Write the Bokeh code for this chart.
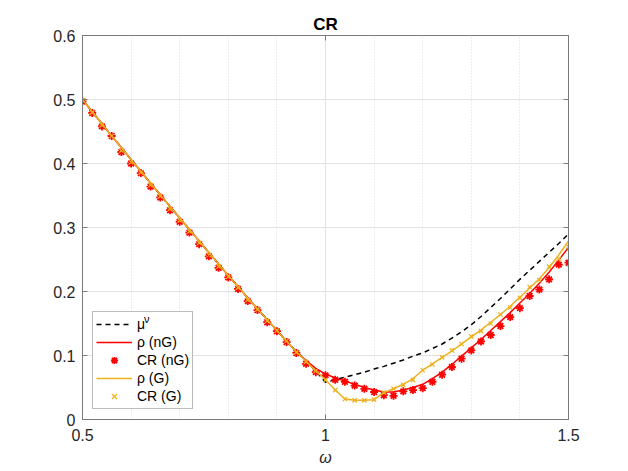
from bokeh.plotting import figure
from bokeh.models import FixedTicker, LinearAxis, Range1d, Legend, LegendItem
from bokeh.embed import file_html
from bokeh.resources import INLINE

omega = [0.50, 0.52, 0.54, 0.56, 0.58, 0.60, 0.62, 0.64, 0.66, 0.68,
         0.70, 0.72, 0.74, 0.76, 0.78, 0.80, 0.82, 0.84, 0.86, 0.88,
         0.90, 0.92, 0.94, 0.96, 0.98, 1.00, 1.02, 1.04, 1.06, 1.08,
         1.10, 1.12, 1.14, 1.16, 1.18, 1.20, 1.22, 1.24, 1.26, 1.28,
         1.30, 1.32, 1.34, 1.36, 1.38, 1.40, 1.42, 1.44, 1.46, 1.48, 1.50]

mu_nu = [0.500, 0.481, 0.462, 0.443, 0.425, 0.406, 0.388, 0.369, 0.351, 0.333,
         0.315, 0.297, 0.279, 0.261, 0.243, 0.225, 0.208, 0.190, 0.173, 0.156,
         0.139, 0.122, 0.106, 0.091, 0.076, 0.058, 0.062, 0.066, 0.070, 0.074,
         0.079, 0.083, 0.088, 0.093, 0.099, 0.104, 0.111, 0.118, 0.127, 0.137,
         0.148, 0.161, 0.175, 0.189, 0.204, 0.219, 0.233, 0.247, 0.261, 0.275, 0.290]

rho_nG = [0.500, 0.481, 0.462, 0.443, 0.425, 0.406, 0.388, 0.369, 0.351, 0.333,
          0.315, 0.297, 0.279, 0.261, 0.243, 0.225, 0.208, 0.190, 0.173, 0.156,
          0.139, 0.122, 0.106, 0.092, 0.080, 0.071, 0.065, 0.060, 0.055, 0.050,
          0.046, 0.043, 0.043, 0.046, 0.050, 0.055, 0.064, 0.074, 0.086, 0.099,
          0.112, 0.125, 0.139, 0.153, 0.167, 0.182, 0.197, 0.213, 0.230, 0.249, 0.269]

cr_nG = [0.497, 0.479, 0.458, 0.443, 0.418, 0.400, 0.385, 0.364, 0.347, 0.327,
         0.309, 0.292, 0.274, 0.255, 0.237, 0.222, 0.204, 0.185, 0.171, 0.152,
         0.138, 0.121, 0.104, 0.087, 0.074, 0.069, 0.062, 0.059, 0.053, 0.048,
         0.043, 0.038, 0.037, 0.044, 0.046, 0.049, 0.059, 0.070, 0.082, 0.095,
         0.108, 0.122, 0.132, 0.146, 0.160, 0.174, 0.193, 0.203, 0.219, 0.242, 0.245]

rho_G = [0.500, 0.481, 0.462, 0.443, 0.425, 0.406, 0.388, 0.369, 0.351, 0.333,
         0.315, 0.297, 0.279, 0.261, 0.243, 0.225, 0.208, 0.190, 0.173, 0.156,
         0.139, 0.122, 0.106, 0.091, 0.076, 0.062, 0.046, 0.032, 0.030, 0.030,
         0.031, 0.042, 0.048, 0.055, 0.064, 0.077, 0.087, 0.097, 0.107, 0.118,
         0.129, 0.140, 0.152, 0.164, 0.177, 0.191, 0.205, 0.220, 0.237, 0.257, 0.279]

cr_G = [0.499, 0.480, 0.460, 0.443, 0.420, 0.402, 0.386, 0.366, 0.349, 0.329,
        0.311, 0.294, 0.276, 0.257, 0.239, 0.223, 0.206, 0.187, 0.172, 0.154,
        0.139, 0.123, 0.105, 0.090, 0.076, 0.062, 0.046, 0.032, 0.030, 0.030,
        0.031, 0.042, 0.048, 0.054, 0.062, 0.077, 0.086, 0.097, 0.108, 0.118,
        0.130, 0.138, 0.150, 0.164, 0.175, 0.190, 0.207, 0.218, 0.239, 0.251, 0.270]

x_ticks = [0.5, 1.0, 1.5]
x_tick_labels = ["0.5", "1", "1.5"]
x_minor = [0.6, 0.7, 0.8, 0.9, 1.1, 1.2, 1.3, 1.4]
y_ticks = [0.0, 0.1, 0.2, 0.3, 0.4, 0.5, 0.6]
y_tick_labels = ["0", "0.1", "0.2", "0.3", "0.4", "0.5", "0.6"]

FONT = "Liberation Sans"
AX = "#7a7a7a"
TXT = "#262626"
RED = "#ff0000"
ORANGE = "#edb120"

p = figure(width=628, height=471, output_backend="svg", toolbar_location=None,
           x_range=Range1d(0.5, 1.5), y_range=Range1d(0, 0.6),
           min_border_left=82, min_border_right=60, min_border_top=35, min_border_bottom=52,
           title="CR")
p.title.align = "center"
p.title.text_font = FONT
p.title.text_font_size = "17px"
p.title.text_font_style = "bold"
p.title.text_color = "#000000"
p.title.standoff = 4
p.outline_line_color = AX
p.outline_line_width = 1

def style_axis(ax):
    ax.axis_line_color = AX
    ax.major_tick_line_color = AX
    ax.major_tick_in = 5
    ax.major_tick_out = 0
    ax.minor_tick_in = 0
    ax.minor_tick_out = 0
    ax.major_label_text_font = FONT
    ax.major_label_text_font_size = "16px"
    ax.major_label_text_color = TXT

xt = FixedTicker(ticks=x_ticks, minor_ticks=x_minor)
yt = FixedTicker(ticks=y_ticks, minor_ticks=[])

p.xaxis.ticker = xt
p.yaxis.ticker = yt
p.xaxis.major_label_overrides = {t: l for t, l in zip(x_ticks, x_tick_labels)}
p.yaxis.major_label_overrides = {t: l for t, l in zip(y_ticks, y_tick_labels)}
style_axis(p.xaxis[0])
style_axis(p.yaxis[0])
p.xaxis.major_label_standoff = 9
p.yaxis.major_label_standoff = 7
p.xaxis.axis_label = "ω"
p.xaxis.axis_label_text_font = FONT
p.xaxis.axis_label_text_font_size = "16px"
p.xaxis.axis_label_text_font_style = "italic"
p.xaxis.axis_label_text_color = TXT
p.xaxis.axis_label_standoff = 5

top_ax = LinearAxis(ticker=FixedTicker(ticks=x_ticks, minor_ticks=[]))
style_axis(top_ax)
top_ax.major_label_overrides = {t: "" for t in x_ticks}
top_ax.major_label_standoff = 0
p.add_layout(top_ax, "above")
right_ax = LinearAxis(ticker=FixedTicker(ticks=y_ticks, minor_ticks=[]))
style_axis(right_ax)
right_ax.major_label_overrides = {t: "" for t in y_ticks}
right_ax.major_label_standoff = 0
p.add_layout(right_ax, "right")

p.xgrid.ticker = xt
p.ygrid.ticker = yt
p.xgrid.grid_line_color = "#e2e2e2"
p.ygrid.grid_line_color = "#e2e2e2"
p.xgrid.minor_grid_line_color = "#dcdcdc"
p.xgrid.minor_grid_line_dash = "1 2"

r_mu = p.line(omega, mu_nu, line_color="#000000", line_width=1.5, line_dash="5 4")
r_rn = p.line(omega, rho_nG, line_color=RED, line_width=1.5)
r_cn = p.scatter(omega, cr_nG, marker="asterisk", size=8, line_color=RED, line_width=1.8)
r_rg = p.line(omega, rho_G, line_color=ORANGE, line_width=1.5)
r_cg = p.scatter(omega, cr_G, marker="x", size=6, line_color=ORANGE, line_width=1.3)

legend = Legend(items=[
    LegendItem(label="μ", renderers=[r_mu]),
    LegendItem(label="ρ (nG)", renderers=[r_rn]),
    LegendItem(label="CR (nG)", renderers=[r_cn]),
    LegendItem(label="ρ (G)", renderers=[r_rg]),
    LegendItem(label="CR (G)", renderers=[r_cg]),
], location=(10, 10))
legend.label_text_font = FONT
legend.label_text_font_size = "14px"
legend.label_text_color = "#000000"
legend.glyph_width = 36
legend.glyph_height = 18
legend.label_height = 18
legend.label_standoff = 5
legend.spacing = 0
legend.padding = 3
legend.margin = 0
legend.border_line_color = AX
legend.border_line_width = 1
legend.background_fill_color = "#ffffff"
legend.background_fill_alpha = 1
p.add_layout(legend, "center")

# superscript nu of the first legend label, drawn as a glyph-less legend on top
r_blank = p.line(x=[], y=[], line_alpha=0)
sup = Legend(items=[LegendItem(label="ν", renderers=[r_blank])], location=(62, 94))
sup.label_text_font = FONT
sup.label_text_font_size = "11px"
sup.label_text_color = "#000000"
sup.glyph_width = 0
sup.glyph_height = 1
sup.label_height = 10
sup.label_standoff = 0
sup.padding = 0
sup.margin = 0
sup.spacing = 0
sup.border_line_alpha = 0
sup.background_fill_alpha = 0
p.add_layout(sup, "center")

open("out.html", "w").write(file_html(p, INLINE))
